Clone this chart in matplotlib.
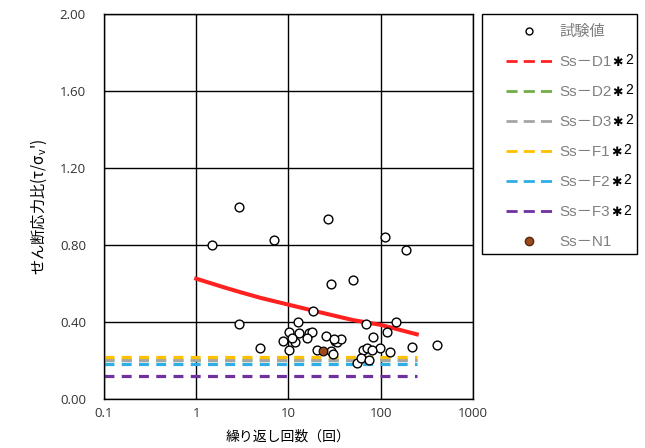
import numpy as np
import matplotlib
matplotlib.use("Agg")
import matplotlib.pyplot as plt
from matplotlib.lines import Line2D
from matplotlib.patches import Rectangle

plt.rcParams['font.family'] = ['Noto Sans CJK JP', 'DejaVu Sans']
plt.rcParams['mathtext.fontset'] = 'dejavusans'

# test results (cycles, stress ratio)
test_n = [1.5, 2.94, 7.05, 26.5, 112, 188, 29, 50, 2.94, 4.93, 18.4, 12.6,
          10.1, 12.9, 16.9, 18.1, 8.8, 11.8, 10.9, 15.8, 10.1, 25.6, 31.8,
          33.9, 37.5, 31, 20.3, 29, 30.6, 55, 68.9, 146, 116, 83, 98, 65,
          71, 81, 126, 221, 407, 61, 74]
test_ratio = [0.80, 0.996, 0.826, 0.934, 0.84, 0.772, 0.597, 0.618, 0.39,
              0.266, 0.456, 0.40, 0.346, 0.343, 0.341, 0.348, 0.301, 0.294,
              0.318, 0.315, 0.253, 0.329, 0.303, 0.294, 0.313, 0.31, 0.253,
              0.251, 0.232, 0.189, 0.39, 0.40, 0.348, 0.32, 0.266, 0.255,
              0.263, 0.253, 0.243, 0.268, 0.282, 0.215, 0.20]

# Ss-D1 curve
d1_n = [1, 2, 3, 5, 10, 20, 50, 100, 246]
d1_ratio = [0.625, 0.58, 0.555, 0.525, 0.49, 0.455, 0.41, 0.385, 0.336]

# constant levels for the other waves
wave_names = ['Ss－D2', 'Ss－D3', 'Ss－F1', 'Ss－F2', 'Ss－F3']
wave_levels = [0.203, 0.205, 0.216, 0.18, 0.118]
wave_colors = ['#70ad47', '#a5a5a5', '#ffc000', '#2eaee6', '#7030a0']
wave_range = [0.1, 250]

n1_n = [23.9]
n1_ratio = [0.249]

fig = plt.figure(figsize=(6.45, 4.48), dpi=100)
ax = fig.add_axes([0.1612, 0.1094, 0.5721, 0.8594])

ax.plot(d1_n, d1_ratio, color='#ff2020', lw=2.9, zorder=3)
for lvl, col in zip(wave_levels, wave_colors):
    ax.plot(wave_range, [lvl, lvl], color=col, lw=2.3,
            linestyle=(0, (3.1, 2.3)), zorder=2)

ax.scatter(test_n, test_ratio, s=40, facecolor='white', edgecolor='black',
           linewidth=1.0, zorder=4)
ax.scatter(n1_n, n1_ratio, s=40, facecolor='#9c4a1c', edgecolor='black',
           linewidth=0.8, zorder=5)

ax.set_xscale('log')
ax.set_xlim(0.1, 1000)
ax.set_ylim(0, 2.0)
ax.set_xticks([0.1, 1, 10, 100, 1000])
ax.set_xticklabels(['0.1', '1', '10', '100', '1000'])
ax.set_yticks([0, 0.4, 0.8, 1.2, 1.6, 2.0])
ax.set_yticklabels(['0.00', '0.40', '0.80', '1.20', '1.60', '2.00'])
ax.minorticks_off()
ax.tick_params(length=0, labelsize=9.5)
ax.tick_params(axis='y', pad=13)
ax.tick_params(axis='x', pad=6)
for lab in ax.get_xticklabels() + ax.get_yticklabels():
    lab.set_family(['Open Sans'])
    lab.set_color('#333333')
ax.grid(True, color='black', lw=1.0)
ax.set_axisbelow(True)
for sp in ax.spines.values():
    sp.set_color('black')
    sp.set_linewidth(1.0)

ax.set_xlabel('繰り返し回数（回）', fontsize=10, labelpad=7)
ax.set_ylabel("せん断応力比(τ/σ$_\\mathregular{v}$')", fontsize=11, labelpad=8)

# legend
leg_dash = (0, (4, 2.2))
handles = [Line2D([], [], marker='o', ls='none', markerfacecolor='white',
                  markeredgecolor='black', markersize=5)]
labels = ['試験値']
handles.append(Line2D([], [], color='#ff2020', lw=2, linestyle=leg_dash))
labels.append('Ss－D1')
for name, col in zip(wave_names, wave_colors):
    handles.append(Line2D([], [], color=col, lw=2, linestyle=leg_dash))
    labels.append(name)
handles.append(Line2D([], [], marker='o', ls='none', markerfacecolor='#9c4a1c',
                      markeredgecolor='#5a2a10', markersize=6))
labels.append('Ss－N1')

leg = fig.legend(handles, labels, loc='upper left',
                 bbox_to_anchor=(506 / 645, 1 - 25 / 448),
                 prop={'family': ['Liberation Sans', 'Noto Sans CJK JP'], 'size': 11},
                 frameon=False, handlelength=3.0, handletextpad=0.5,
                 labelspacing=1.05, borderpad=0, borderaxespad=0)
for t in leg.get_texts():
    t.set_color('#7f7f7f')

fig.patches.append(Rectangle((482 / 645, 1 - 254 / 448), 155 / 645, 240 / 448,
                             transform=fig.transFigure, fill=False,
                             edgecolor='black', lw=1.0))

# the "*2" note after the wave names
fig.canvas.draw()
renderer = fig.canvas.get_renderer()
inv = fig.transFigure.inverted()
for t in leg.get_texts()[1:7]:
    bb = t.get_window_extent()
    xa, ya = inv.transform((bb.x1, (bb.y0 + bb.y1) / 2))
    star = fig.text(xa + 0.001, ya, '✱', fontsize=9, color='black',
                    family=['DejaVu Sans'], fontweight='bold', va='center', ha='left')
    sb = star.get_window_extent(renderer=renderer)
    xb, _ = inv.transform((sb.x1, sb.y0))
    fig.text(xb + 0.003, ya + 0.004, '2', fontsize=10, color='black',
             family=['Liberation Sans'], va='center', ha='left')

fig.savefig('out.png', dpi=100)
